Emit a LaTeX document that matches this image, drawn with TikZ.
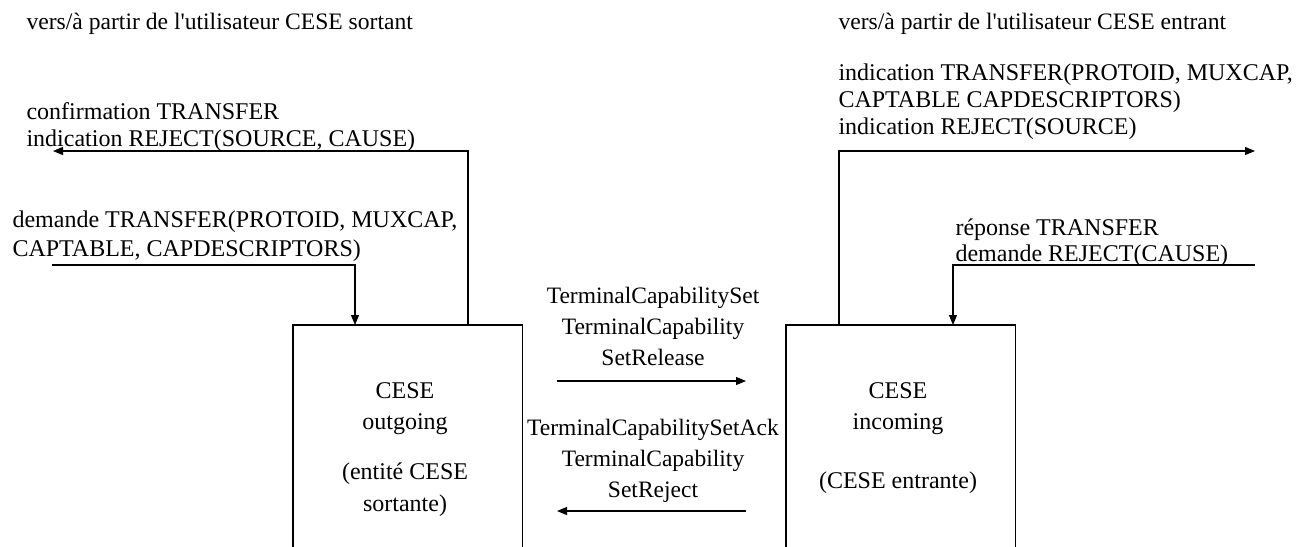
\documentclass[tikz,border=0pt]{standalone}
\usepackage{fontspec}
\setmainfont{Liberation Serif}[Ligatures=TeXOff]
\usetikzlibrary{arrows.meta}
\begin{document}
\begin{tikzpicture}[x=1pt,y=-1pt,line width=1.1pt,
  lbl/.style={anchor=base west,inner sep=0pt,font=\fontsize{24}{28}\selectfont},
  ttl/.style={anchor=base west,inner sep=0pt,font=\fontsize{23.6}{28}\selectfont},
  clbl/.style={anchor=base,inner sep=0pt,font=\fontsize{24}{28}\selectfont},
  mlbl/.style={anchor=base,inner sep=0pt,font=\fontsize{23.5}{28}\selectfont},
  tip/.style={-{Triangle[length=10pt,width=8pt]}},
  entity/.style={draw=none,minimum width=228pt,minimum height=221pt,inner sep=0pt,anchor=north west}]
\useasboundingbox (0,0) rectangle (1297,546);
% titles
\node[ttl] (t1) at (26,29) {vers/à partir de l'utilisateur CESE sortant};
\node[ttl] (t2) at (838,29) {vers/à partir de l'utilisateur CESE entrant};
% entity boxes (open at the bottom)
\node[entity] (out) at (293,325) {};
\node[entity] (inc) at (786,325) {};
\draw (out.south west) -- (out.north west) -- (out.north east) -- (out.south east);
\draw (inc.south west) -- (inc.north west) -- (inc.north east) -- (inc.south east);
% box texts
\node[clbl] (o1) at (405,398) {CESE};
\node[clbl] (o2) at (405,429) {outgoing};
\node[clbl] (o3) at (405,479) {(entité CESE};
\node[clbl] (o4) at (405,511) {sortante)};
\node[clbl] (i1) at (898,398) {CESE};
\node[clbl] (i2) at (898,429) {incoming};
\node[clbl] (i3) at (898,488) {(CESE entrante)};
% left upper: confirmation / indication
\node[lbl] (lu1) at (26,119) {confirmation TRANSFER};
\node[lbl] (lu2) at (26,146) {indication REJECT(SOURCE, CAUSE)};
\coordinate (luA) at (468,325);
\coordinate (luB) at (468,151);
\coordinate (luC) at (53,151);
\draw[tip] (luA) -- (luB) -- (luC);
% left lower: demande
\node[lbl] (ll1) at (12,227) {demande TRANSFER(PROTOID, MUXCAP,};
\node[lbl] (ll2) at (12,256) {CAPTABLE, CAPDESCRIPTORS)};
\coordinate (llA) at (52,265);
\coordinate (llB) at (355,265);
\draw[tip] (llA) -- (llB) -- (out.north west -| llB);
% right upper: indication
\node[lbl] (ru1) at (838,80) {indication TRANSFER(PROTOID, MUXCAP,};
\node[lbl] (ru2) at (838,107) {CAPTABLE CAPDESCRIPTORS)};
\node[lbl] (ru3) at (838,134) {indication REJECT(SOURCE)};
\coordinate (ruA) at (839,325);
\coordinate (ruB) at (839,151);
\coordinate (ruC) at (1255,151);
\draw[tip] (ruA) -- (ruB) -- (ruC);
% right lower: reponse
\node[lbl] (rl1) at (955,235) {réponse TRANSFER};
\node[lbl] (rl2) at (955,261) {demande REJECT(CAUSE)};
\coordinate (rlA) at (1255,265);
\coordinate (rlB) at (953,265);
\draw[tip] (rlA) -- (rlB) -- (inc.north west -| rlB);
% middle messages
\node[mlbl] (m1) at (653,303) {TerminalCapabilitySet};
\node[mlbl] (m2) at (653,334) {TerminalCapability};
\node[mlbl] (m3) at (653,365) {SetRelease};
\coordinate (mA) at (557,381);
\coordinate (mB) at (746,381);
\draw[tip] (mA) -- (mB);
\node[mlbl] (n1) at (653,435) {TerminalCapabilitySetAck};
\node[mlbl] (n2) at (653,466) {TerminalCapability};
\node[mlbl] (n3) at (653,497) {SetReject};
\coordinate (nA) at (746,511);
\coordinate (nB) at (557,511);
\draw[tip] (nA) -- (nB);
\end{tikzpicture}
\end{document}
